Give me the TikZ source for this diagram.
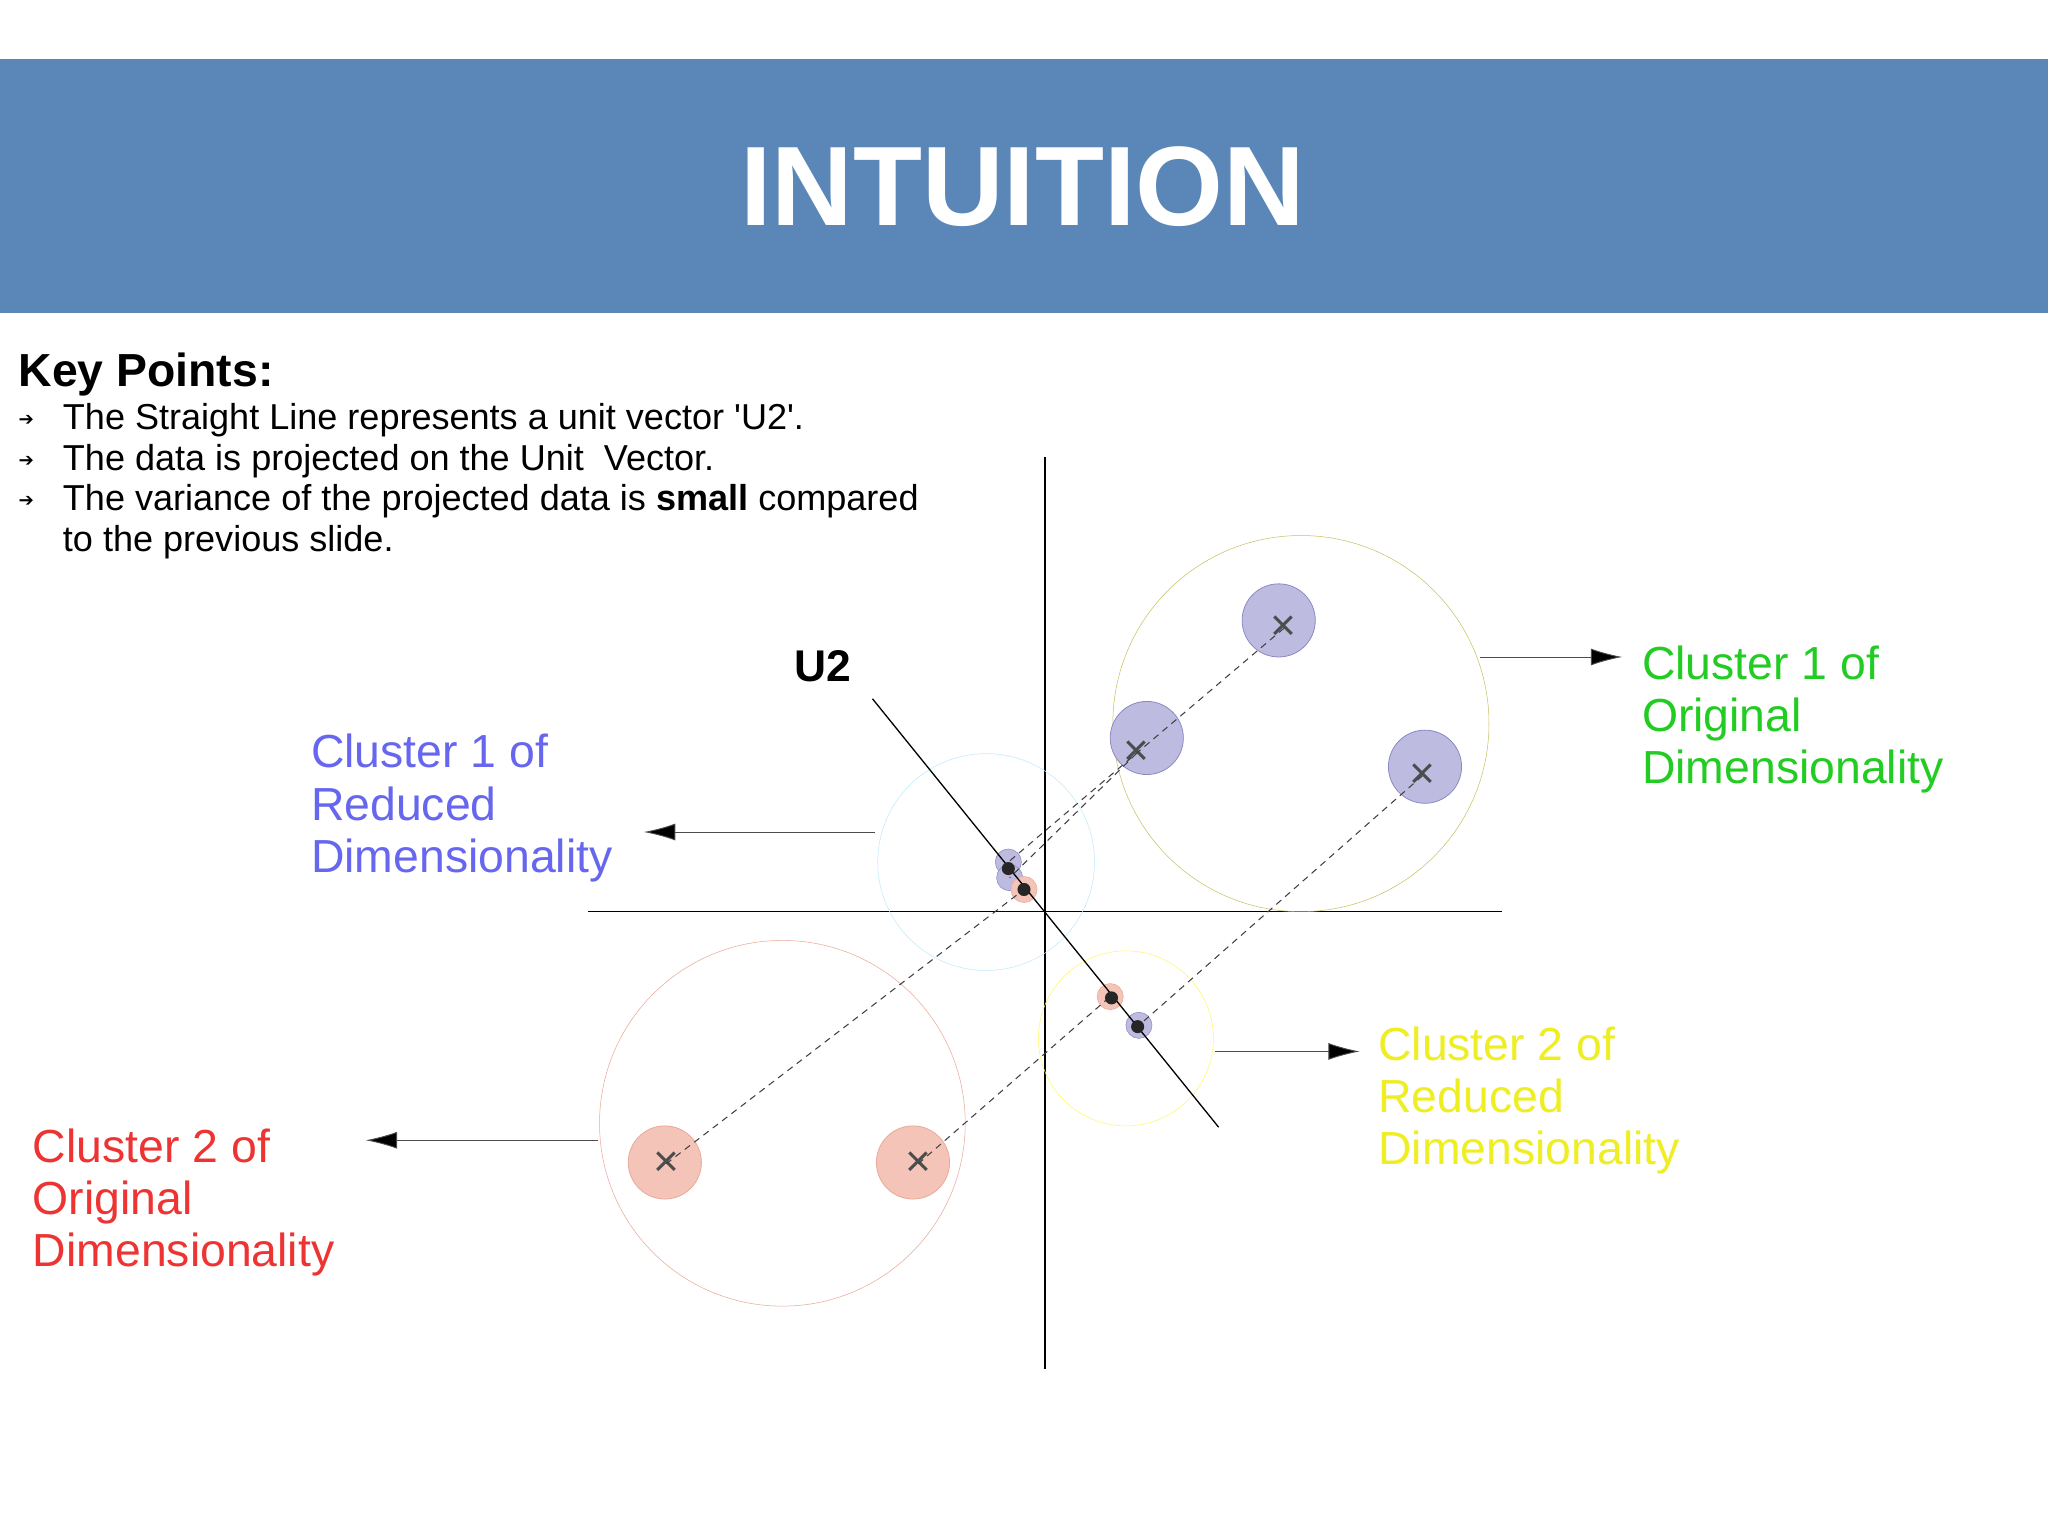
\documentclass[tikz,border=0pt]{standalone}
\usepackage{fontspec}
\setmainfont{Liberation Sans}
\newfontfamily\djv{DejaVu Sans}
\usetikzlibrary{arrows.meta}
\definecolor{band}{HTML}{5B87B8}
\definecolor{cgreen}{HTML}{22CC22}
\definecolor{cblue}{HTML}{6666EE}
\definecolor{cyel}{HTML}{EEEE22}
\definecolor{cred}{HTML}{EE3333}
\definecolor{pfill}{HTML}{BDBBE0}
\definecolor{pstroke}{HTML}{8A88C4}
\definecolor{rfill}{HTML}{F4C4B8}
\definecolor{rstroke}{HTML}{EAA898}
\begin{document}
\begin{tikzpicture}[x=1pt,y=-1pt,
  lbl/.style={font=\fontsize{35.5}{40}\selectfont,anchor=north west,align=left,inner sep=0},
  arr/.style={draw=black!70,line width=0.7pt,-{Latex[length=24pt,width=13pt,fill=black]}},
  pdot/.style={circle,fill=pfill,draw=pstroke,line width=0.6pt,minimum size=56pt,inner sep=0},
  rdot/.style={circle,fill=rfill,draw=rstroke,line width=0.6pt,minimum size=56pt,inner sep=0},
  xm/.style={font=\fontsize{34}{34}\selectfont,text=black!70,inner sep=0},
  proj/.style={circle,fill=black!85,minimum size=10pt,inner sep=0},
  dsh/.style={dashed,black!75,line width=0.8pt,dash pattern=on 5pt off 4pt},
  bul/.style={font=\fontsize{27.6}{31}\selectfont,anchor=west,inner sep=0}]
\useasboundingbox[fill=white] (0,0) rectangle (1568,1175.3);
\fill[band] (0,45) rectangle (1568,240);
\node[font=\bfseries\fontsize{86.5}{100}\selectfont,text=white] (title) at (783,143) {INTUITION};
\node[font=\bfseries\fontsize{35.5}{38}\selectfont,anchor=west,inner sep=0] (kp) at (14,287) {Key Points:};
\node[bul] (b1) at (14,322) {\djv\fontsize{14}{14}\selectfont➔}; \node[bul] (t1) at (48,322) {The Straight Line represents a unit vector \textquotesingle U2\textquotesingle.};
\node[bul] (b2) at (14,353) {\djv\fontsize{14}{14}\selectfont➔}; \node[bul] (t2) at (48,353) {The data is projected on the Unit\ \ Vector.};
\node[bul] (b3) at (14,384) {\djv\fontsize{14}{14}\selectfont➔}; \node[bul] (t3) at (48,384) {The variance of the projected data is \textbf{small} compared};
\node[bul] (t4) at (48,415) {to the previous slide.};
% axes
\coordinate (vt) at (800,350); \coordinate (vb) at (800,1048);
\coordinate (hl) at (450,698); \coordinate (hr) at (1150,698);
\draw[line width=1pt] (vt)--(vb); \draw[line width=1pt] (hl)--(hr);
% circles
\node[circle,draw=olive!50,minimum size=288pt,inner sep=0] (g) at (996,554) {};
\node[circle,draw=cyan!25,minimum size=166pt,inner sep=0] (lb) at (755,660) {};
\node[circle,draw=yellow!60,minimum size=134pt,inner sep=0] (yc) at (862,795) {};
\node[circle,draw=rstroke,minimum size=280pt,inner sep=0] (rc) at (599,860) {};
% dots
\node[pdot] (p1) at (979,475) {}; \node[pdot] (p2) at (878,565) {}; \node[pdot] (p3) at (1091,587) {};
\node[rdot] (r1) at (509,890) {}; \node[rdot] (r2) at (699,890) {};
\node[circle,fill=pfill,draw=pstroke,minimum size=20pt,inner sep=0] (q1) at (772,660) {};
\node[circle,fill=pfill,draw=pstroke,minimum size=20pt,inner sep=0] (q1b) at (773,672) {};
\node[circle,fill=rfill,draw=rstroke,minimum size=20pt,inner sep=0] (q2) at (784,681) {};
\node[circle,fill=rfill,draw=rstroke,minimum size=20pt,inner sep=0] (q3) at (850,763) {};
\node[circle,fill=pfill,draw=pstroke,minimum size=20pt,inner sep=0] (q4) at (872,785) {};
% U2 line
\coordinate (u1) at (668,535); \coordinate (u2) at (933,863);
\draw[line width=1pt] (u1)--(u2);
\node[font=\bfseries\fontsize{34}{40}\selectfont] (u2l) at (630,510) {U2};
% x marks
\node[xm] (x1) at (983,481) {×}; \node[xm] (x2) at (870,577) {×}; \node[xm] (x3) at (1089,594) {×};
\node[xm] (x4) at (510,891) {×}; \node[xm] (x5) at (703,891) {×};
% dashed
\draw[dsh] (x1.center)--(q1.center); \draw[dsh] (x2.center)--(q1b.center);
\draw[dsh] (x3.center)--(q4.center); \draw[dsh] (x4.center)--(q2.center); \draw[dsh] (x5.center)--(q3.center);
\node[proj] (k1) at (772,665) {}; \node[proj] (k2) at (784,681) {}; \node[proj] (k3) at (851,764) {}; \node[proj] (k4) at (871,786) {};
% arrows
\coordinate (a1) at (1133,503); \coordinate (a1e) at (1242,503);
\coordinate (a2) at (670,637); \coordinate (a2e) at (493,637);
\coordinate (a3) at (930,805); \coordinate (a3e) at (1041,805);
\coordinate (a4) at (458,873); \coordinate (a4e) at (280,873);
\draw[arr] (a1)--(a1e); \draw[arr] (a2)--(a2e); \draw[arr] (a3)--(a3e); \draw[arr] (a4)--(a4e);
\node[lbl,text=cgreen] (l1) at (1257,494) {Cluster 1 of\\Original\\Dimensionality};
\node[lbl,text=cblue] (l2) at (238,562) {Cluster 1 of\\Reduced\\Dimensionality};
\node[lbl,text=cyel] (l3) at (1055,786) {Cluster 2 of\\Reduced\\Dimensionality};
\node[lbl,text=cred] (l4) at (25,864) {Cluster 2 of\\Original\\Dimensionality};
\end{tikzpicture}
\end{document}
